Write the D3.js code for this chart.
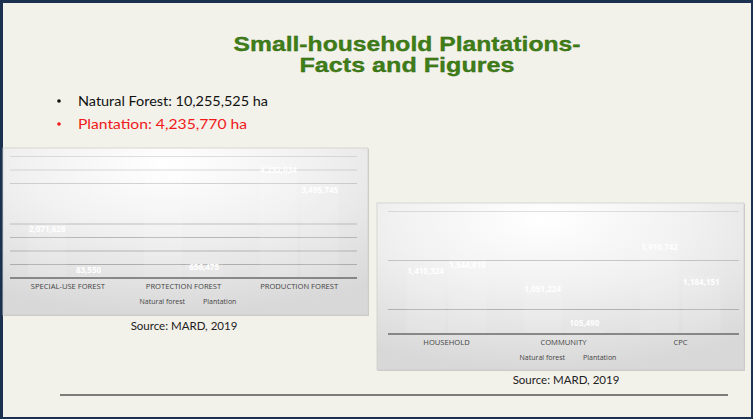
<!DOCTYPE html>
<html>
<head>
<meta charset="utf-8">
<script src="https://cdn.jsdelivr.net/npm/d3@7"></script>
<style>
  html, body { margin: 0; padding: 0; background: #f2f1ea; }
  svg { display: block; }
</style>
</head>
<body>
<svg id="slide" width="753" height="419"></svg>
<script>
// Forest area by function (ha)
const forestTypes = ["SPECIAL-USE FOREST", "PROTECTION FOREST", "PRODUCTION FOREST"];
const forestNatural = [2071628, 3951863, 4232034];
const forestPlantation = [83550, 656475, 3495745];
const forestGrid = [500000, 1000000, 1500000, 2000000, 3500000, 4000000, 4500000];

// Forest area by owner (ha)
const ownerTypes = ["HOUSEHOLD", "COMMUNITY", "CPC"];
const ownerNatural = [1410324, 1051224, 1910742];
const ownerPlantation = [1544810, 105490, 1184151];
const ownerGrid = [500000, 1500000, 2500000];

const seriesNames = ["Natural forest", "Plantation"];

const svg = d3.select("#slide");
const defs = svg.append("defs");

// slide frame
svg.append("rect").attr("x", 0).attr("y", 0).attr("width", 753).attr("height", 419).attr("fill", "#1c3050");
svg.append("rect").attr("x", 3).attr("y", 3).attr("width", 748).attr("height", 414).attr("fill", "#f2f1ea");

// title
const titleLines = [
  { text: "Small-household Plantations-", y: 51, len: 347 },
  { text: "Facts and Figures", y: 72, len: 215 }
];
titleLines.forEach(t => {
  svg.append("text")
    .attr("x", 407).attr("y", t.y)
    .attr("text-anchor", "middle")
    .attr("font-family", "Liberation Sans, Arial, sans-serif")
    .attr("font-weight", "bold")
    .attr("font-size", 20.5)
    .attr("textLength", t.len)
    .attr("lengthAdjust", "spacingAndGlyphs")
    .attr("fill", "#3f7e17")
    .attr("stroke", "#2f6410").attr("stroke-width", 0.3)
    .text(t.text);
});

// bullets
const bullets = [
  { text: "Natural Forest: 10,255,525 ha", color: "#111", len: 190 },
  { text: "Plantation: 4,235,770 ha", color: "#f01818", len: 169 }
];
bullets.forEach((b, i) => {
  const y = 106 + i * 23;
  svg.append("circle").attr("cx", 59).attr("cy", y - 5).attr("r", 1.8).attr("fill", b.color);
  svg.append("text").attr("x", 78).attr("y", y)
    .attr("font-family", "Lato, Open Sans, sans-serif")
    .attr("font-size", 13.5)
    .attr("textLength", b.len)
    .attr("lengthAdjust", "spacingAndGlyphs")
    .attr("fill", b.color)
    .text(b.text);
});

// chart background gradient
const bg = defs.append("radialGradient").attr("id", "chartBg")
  .attr("cx", "45%").attr("cy", "10%").attr("r", "90%");
bg.append("stop").attr("offset", "0%").attr("stop-color", "#ffffff");
bg.append("stop").attr("offset", "45%").attr("stop-color", "#f1f1f1");
bg.append("stop").attr("offset", "100%").attr("stop-color", "#d8d8d8");

function drawChart(opts) {
  const g = svg.append("g");
  // panel
  g.append("rect")
    .attr("x", opts.box.x + 1).attr("y", opts.box.y + 1)
    .attr("width", opts.box.w).attr("height", opts.box.h)
    .attr("fill", "#c9c9c4");
  g.append("rect")
    .attr("x", opts.box.x).attr("y", opts.box.y)
    .attr("width", opts.box.w).attr("height", opts.box.h)
    .attr("fill", "url(#chartBg)")
    .attr("stroke", "#d0d0d0").attr("stroke-width", 0.8);

  const x = d3.scaleBand().domain(opts.categories)
    .range([opts.plot.x0, opts.plot.x1]).paddingInner(0).paddingOuter(0);
  const xs = d3.scaleBand().domain(seriesNames)
    .range([0, x.bandwidth()]).paddingInner(0.08).paddingOuter(0.44);
  const y = d3.scaleLinear().domain([0, opts.max]).range([opts.plot.base, opts.plot.top]);

  // gridlines
  g.append("g").selectAll("line").data(opts.grid).join("line")
    .attr("x1", opts.plot.x0).attr("x2", opts.plot.x1)
    .attr("y1", d => y(d)).attr("y2", d => y(d))
    .attr("stroke", "#aaaaaa").attr("stroke-width", 1)
    .attr("opacity", d => 0.35 + 0.65 * (1 - d / opts.max));

  const rows = opts.categories.map((c, i) => ({ c, vals: [opts.natural[i], opts.plantation[i]] }));

  // bars (white, blending into the panel)
  rows.forEach(r => {
    r.vals.forEach((v, j) => {
      g.append("rect")
        .attr("x", x(r.c) + xs(seriesNames[j]))
        .attr("y", y(v))
        .attr("width", xs.bandwidth())
        .attr("height", y(0) - y(v))
        .attr("fill", "#ffffff").attr("opacity", 0.1);
    });
  });

  // axis line
  g.append("line")
    .attr("x1", opts.plot.x0).attr("x2", opts.plot.x1)
    .attr("y1", y(0)).attr("y2", y(0))
    .attr("stroke", "#6a6a6a").attr("stroke-width", 1.3);

  // category labels
  const xAxis = d3.axisBottom(x).tickSize(0).tickPadding(6);
  const ax = g.append("g").attr("transform", `translate(0,${y(0)})`).call(xAxis);
  ax.select(".domain").remove();
  ax.selectAll("text")
    .attr("font-family", "Open Sans, sans-serif")
    .attr("font-size", 7.6)
    .attr("fill", "#444");

  // value labels
  const fmt = d3.format(",");
  rows.forEach(r => {
    r.vals.forEach((v, j) => {
      const h = y(0) - y(v);
      const ly = h > 15 ? y(v) + 9.5 : y(v) - 3;
      g.append("text")
        .attr("x", x(r.c) + xs(seriesNames[j]) + xs.bandwidth() / 2)
        .attr("y", ly)
        .attr("text-anchor", "middle")
        .attr("font-family", "Open Sans, sans-serif")
        .attr("font-size", 8)
        .attr("font-weight", "bold")
        .attr("fill", "#ffffff")
        .text(fmt(v));
    });
  });

  // legend
  const legend = g.append("text")
    .attr("x", opts.legendX).attr("y", opts.legendY)
    .attr("text-anchor", "middle")
    .attr("font-family", "Open Sans, sans-serif")
    .attr("font-size", 7)
    .attr("fill", "#444");
  legend.append("tspan").text(seriesNames[0]);
  legend.append("tspan").attr("dx", 18).text(seriesNames[1]);

  // source
  svg.append("text")
    .attr("x", opts.sourceX).attr("y", opts.sourceY)
    .attr("text-anchor", "middle")
    .attr("font-family", "Lato, Open Sans, sans-serif")
    .attr("font-size", 11.5)
    .attr("fill", "#222")
    .text("Source: MARD, 2019");
}

drawChart({
  categories: forestTypes, natural: forestNatural, plantation: forestPlantation,
  grid: forestGrid, max: 4500000,
  box: { x: 3, y: 148, w: 365, h: 167 },
  plot: { x0: 10, x1: 357, base: 278, top: 156.5 },
  legendX: 188, legendY: 304,
  sourceX: 184, sourceY: 330
});

drawChart({
  categories: ownerTypes, natural: ownerNatural, plantation: ownerPlantation,
  grid: ownerGrid, max: 2500000,
  box: { x: 377, y: 203, w: 367, h: 167 },
  plot: { x0: 388, x1: 739, base: 334, top: 211.5 },
  legendX: 568, legendY: 360,
  sourceX: 566, sourceY: 384
});

// footer rule
svg.append("line")
  .attr("x1", 60).attr("x2", 728).attr("y1", 395).attr("y2", 395)
  .attr("stroke", "#555").attr("stroke-width", 1.3);
</script>
</body>
</html>
